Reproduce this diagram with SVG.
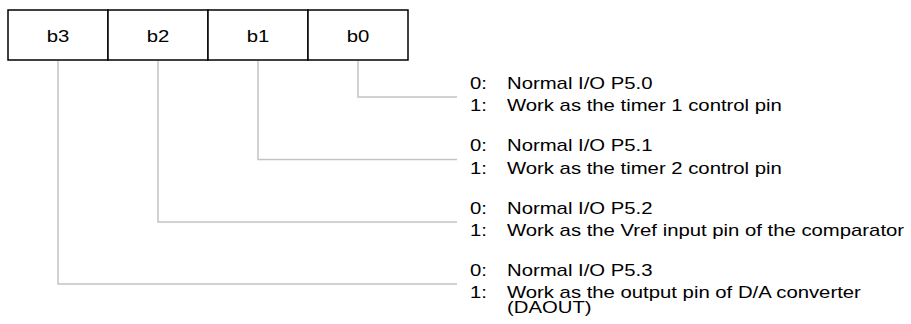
<svg xmlns="http://www.w3.org/2000/svg" width="911" height="324" viewBox="0 0 911 324">
<style>
.cell{fill:#fff;stroke:#000;stroke-width:1.5}
.t{font-family:"Liberation Sans",Arial,sans-serif;font-size:16px;fill:#000}
.m{text-anchor:middle}
.c{fill:none;stroke:#c4c4c4;stroke-width:1.5}
</style>
<rect width="911" height="324" fill="#fff"/>
<g id="reg">
<g id="b3"><rect class="cell" x="8" y="10" width="100" height="50"/><text class="t m" transform="matrix(1.27 0 0 1 58 42)">b3</text></g>
<g id="b2"><rect class="cell" x="108" y="10" width="100" height="50"/><text class="t m" transform="matrix(1.27 0 0 1 158 42)">b2</text></g>
<g id="b1"><rect class="cell" x="208" y="10" width="100" height="50"/><text class="t m" transform="matrix(1.27 0 0 1 258 42)">b1</text></g>
<g id="b0"><rect class="cell" x="308" y="10" width="100" height="50"/><text class="t m" transform="matrix(1.27 0 0 1 358 42)">b0</text></g>
</g>
<g id="connectors">
<polyline class="c" points="358,61 358,97 457,97"/>
<polyline class="c" points="258,61 258,159.5 457,159.5"/>
<polyline class="c" points="158,61 158,222 457,222"/>
<polyline class="c" points="58,61 58,284 457,284"/>
</g>
<g id="desc0">
<text class="t" transform="matrix(1.27 0 0 1 470 88.5)">0:</text>
<text class="t" transform="matrix(1.27 0 0 1 507 88.5)">Normal I/O P5.0</text>
<text class="t" transform="matrix(1.27 0 0 1 470 111)">1:</text>
<text class="t" transform="matrix(1.27 0 0 1 507 111)">Work as the timer 1 control pin</text>
</g>
<g id="desc1">
<text class="t" transform="matrix(1.27 0 0 1 470 151)">0:</text>
<text class="t" transform="matrix(1.27 0 0 1 507 151)">Normal I/O P5.1</text>
<text class="t" transform="matrix(1.27 0 0 1 470 173.5)">1:</text>
<text class="t" transform="matrix(1.27 0 0 1 507 173.5)">Work as the timer 2 control pin</text>
</g>
<g id="desc2">
<text class="t" transform="matrix(1.27 0 0 1 470 213.5)">0:</text>
<text class="t" transform="matrix(1.27 0 0 1 507 213.5)">Normal I/O P5.2</text>
<text class="t" transform="matrix(1.27 0 0 1 470 236)">1:</text>
<text class="t" transform="matrix(1.27 0 0 1 507 236)">Work as the Vref input pin of the comparator</text>
</g>
<g id="desc3">
<text class="t" transform="matrix(1.27 0 0 1 470 275.5)">0:</text>
<text class="t" transform="matrix(1.27 0 0 1 507 275.5)">Normal I/O P5.3</text>
<text class="t" transform="matrix(1.27 0 0 1 470 298)">1:</text>
<text class="t" transform="matrix(1.27 0 0 1 507 298)">Work as the output pin of D/A converter</text>
<text class="t" transform="matrix(1.27 0 0 1 507 313)">(DAOUT)</text>
</g>
</svg>
